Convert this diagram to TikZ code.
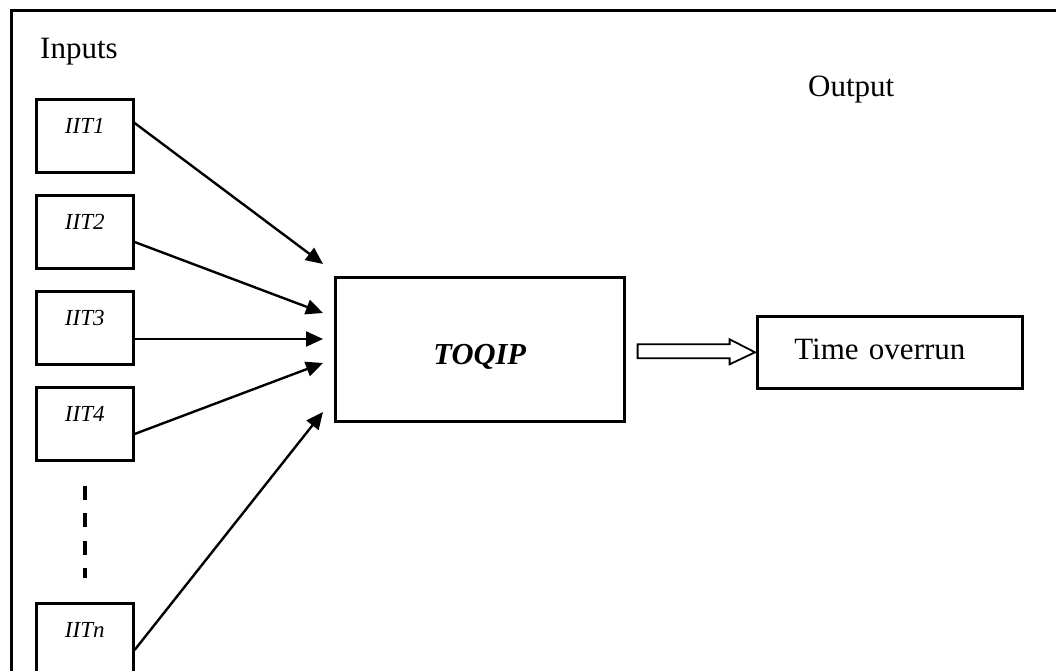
\documentclass[tikz,border=0pt]{standalone}
\usepackage{fontspec}
\setmainfont{Liberation Serif}
\usetikzlibrary{arrows.meta,calc}
\tikzset{
  frame/.style={line width=3pt},
  inbox/.style={draw, line width=2.6pt, anchor=north west, inner sep=0pt,
    minimum width=97pt, minimum height=73pt, text height=34pt, text depth=39pt,
    font=\fontsize{23}{27}\selectfont\itshape},
  bigtext/.style={inner sep=0pt, anchor=base west, font=\fontsize{31}{36}\selectfont},
  conn/.style={line width=2.4pt, -{Triangle[length=17pt,width=15pt]}},
  hollow/.style={line width=1.8pt, line join=miter},
  dotsline/.style={line width=4pt, dash pattern=on 14pt off 13.5pt}
}
\begin{document}
\begin{tikzpicture}[x=1pt,y=-1pt]
\clip (0,0) rectangle (1056,671);
\useasboundingbox (0,0) rectangle (1056,671);
\draw[frame] (11,11) rectangle (1080,700);

\node[bigtext] (inputs) at (40,59) {Inputs};
\node[bigtext] (output) at (808,97) {Output};

\node[inbox] (i1) at (35,98)  {IIT1};
\node[inbox] (i2) at (35,194) {IIT2};
\node[inbox] (i3) at (35,290) {IIT3};
\node[inbox] (i4) at (35,386) {IIT4};
\node[inbox] (in) at (35,602) {IITn};

\node[draw, line width=2.6pt, anchor=north west, inner sep=0pt,
  minimum width=289pt, minimum height=144pt, text height=87pt, text depth=57pt,
  font=\fontsize{30.5}{35}\selectfont\bfseries\itshape] (toqip) at (334,276) {TOQIP};

\node[draw, line width=2.6pt, anchor=north west, inner ysep=0pt, inner xsep=37pt,
  text width=191pt, align=left, minimum height=72pt, text height=43pt, text depth=29pt,
  font=\fontsize{31}{36}\selectfont] (out) at (756,315) {Time overrun};

\coordinate (t1) at (323,264);
\coordinate (t2) at (323,313);
\coordinate (t3) at (323,339);
\coordinate (t4) at (323,363);
\coordinate (tn) at (323,412);

\draw[conn] ($(i1.north east)+(0,25)$) -- (t1);
\draw[conn] ($(i2.north east)+(0,48)$) -- (t2);
\draw[conn] ($(i3.north east)+(0,49)$) -- (t3);
\draw[conn] ($(i4.north east)+(0,48)$) -- (t4);
\draw[conn] ($(in.north east)+(0,48)$) -- (tn);

\draw[dotsline] ($(i4.south)+(0,24)$) -- ($(in.north)+(0,-24)$);

\coordinate (ha) at ($(toqip.east)+(12,2)$);
\draw[hollow] ($(ha)+(0,-7)$) -- ++(92,0) -- ++(0,-5) -- ($(out.west)+(-1,0)$)
  -- ($(ha)+(92,13)$) -- ++(0,-6) -- ($(ha)+(0,7)$) -- cycle;
\end{tikzpicture}
\end{document}
